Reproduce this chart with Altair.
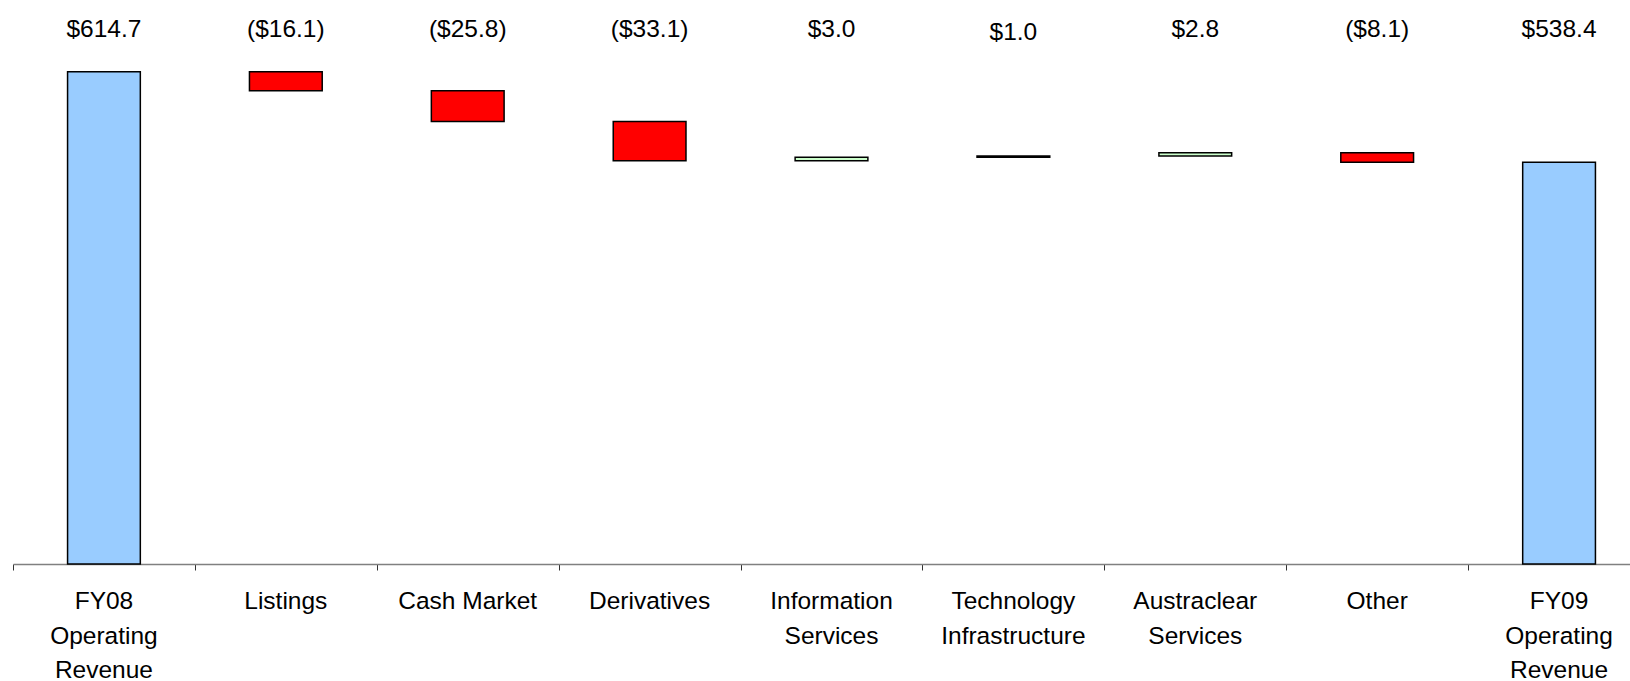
import altair as alt
import pandas as pd

categories = ["FY08\nOperating\nRevenue", "Listings", "Cash Market", "Derivatives",
              "Information\nServices", "Technology\nInfrastructure", "Austraclear\nServices",
              "Other", "FY09\nOperating\nRevenue"]
values = [614.7, -16.1, -25.8, -33.1, 3.0, 1.0, 2.8, -8.1, 538.4]
kinds = ["total", "change", "change", "change", "change", "change", "change", "change", "total"]
value_labels = ["$614.7", "($16.1)", "($25.8)", "($33.1)", "$3.0", "$1.0", "$2.8", "($8.1)", "$538.4"]

rows = []
running = 0.0
for i, (c, v, k, lab) in enumerate(zip(categories, values, kinds, value_labels)):
    if k == "total":
        lo, hi = 200.0, v
        running = v
        color = "total"
    else:
        start = running
        running = running + v
        lo, hi = start, running
        color = "neg" if v < 0 else "pos"
    rows.append({"cat": c, "idx": i, "mid": i + 0.5, "xl": i + 0.3, "xr": i + 0.7,
                 "lo": lo, "hi": hi, "kind": color, "label": lab})
df = pd.DataFrame(rows)

xscale = alt.Scale(domain=[0, 8.89], nice=False, zero=False)
yscale = alt.Scale(domain=[200, 675.1], nice=False, zero=False)
FONT = "Liberation Sans"

bars = alt.Chart(df).mark_bar(stroke="black", strokeWidth=1.5).encode(
    x=alt.X("xl:Q", scale=xscale,
            axis=alt.Axis(values=list(range(9)), labels=False, title=None, grid=False,
                          tickSize=6, tickColor="#333333", domainColor="#808080",
                          domainWidth=1.5, tickWidth=1)),
    x2="xr:Q",
    y=alt.Y("lo:Q", scale=yscale, axis=None),
    y2="hi:Q",
    color=alt.Color("kind:N",
                    scale=alt.Scale(domain=["total", "neg", "pos"],
                                    range=["#99CCFF", "#FF0000", "#CCFFCC"]),
                    legend=None),
)

top_labels = alt.Chart(df).mark_text(
    font=FONT, fontSize=24.5, color="black", baseline="alphabetic", align="center"
).encode(
    x=alt.X("mid:Q", scale=xscale),
    y=alt.value(37),
    text="label:N",
).transform_filter("datum.label != '$1.0'")

top_label_low = alt.Chart(df).mark_text(
    font=FONT, fontSize=24.5, color="black", baseline="alphabetic", align="center", dy=3
).encode(
    x=alt.X("mid:Q", scale=xscale),
    y=alt.value(37),
    text="label:N",
).transform_filter("datum.label == '$1.0'")

cat_labels = alt.Chart(df).mark_text(
    font=FONT, fontSize=24.5, color="black", baseline="alphabetic", align="center",
    lineBreak="\n", lineHeight=34.5
).encode(
    x=alt.X("mid:Q", scale=xscale),
    y=alt.value(609),
    text="cat:N",
)

chart = alt.layer(bars, top_labels, top_label_low, cat_labels).properties(
    width=1617, height=564,
    autosize=alt.AutoSizeParams(type="none"),
    padding={"left": 13, "top": 0, "right": 0, "bottom": 117},
).configure(background="white").configure_view(stroke=None)

chart.save("out.html", embed_options={"renderer": "svg", "actions": False})
